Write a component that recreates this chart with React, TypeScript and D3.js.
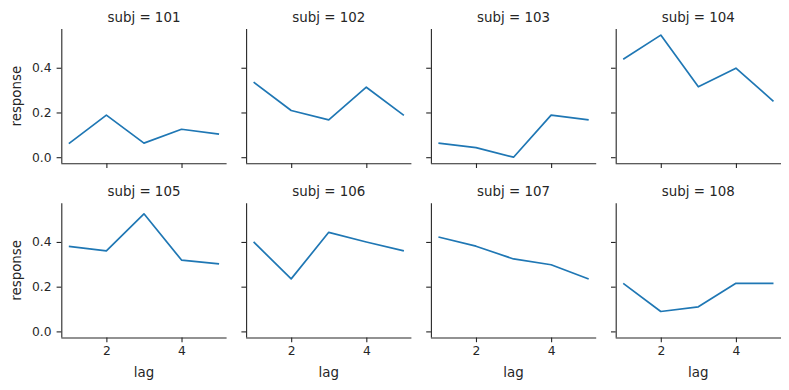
import React, { useRef, useEffect } from 'react'
import * as d3 from 'd3'

// facet data: one series per subject, lag 1..5
const subjects = [101, 102, 103, 104, 105, 106, 107, 108]
const lags = [1, 2, 3, 4, 5]
const responses = [
	[0.061, 0.188, 0.063, 0.125, 0.103],
	[0.336, 0.209, 0.167, 0.313, 0.187],
	[0.063, 0.043, 0.0, 0.188, 0.167],
	[0.438, 0.546, 0.315, 0.398, 0.25],
	[0.38, 0.36, 0.526, 0.319, 0.302],
	[0.4, 0.235, 0.443, 0.4, 0.36],
	[0.422, 0.381, 0.324, 0.298, 0.234],
	[0.215, 0.089, 0.11, 0.215, 0.215],
]
const xTicks = [2, 4]
const yTicks = [0, 0.2, 0.4]

const App = () => {
	const svgRef = useRef<SVGSVGElement>(null)

	useEffect(() => {
		document.body.style.margin = '0'
		const svg = d3.select(svgRef.current)
		svg.selectAll('*').remove()

		const width = 789
		const height = 390
		const ink = '#262626'
		const font = 'DejaVu Sans, sans-serif'
		svg.attr('width', width).attr('height', height)

		// panel geometry
		const cols = 4
		const left0 = 61.3
		const colStep = 184.8
		const pw = 165.3
		const top0 = 29
		const rowStep = 174.2
		const ph = 134.3

		// shared scales (sharex/sharey, 5% margins)
		const all = responses.flat()
		const yMin = d3.min(all)
		const yMax = d3.max(all)
		const yPad = (yMax - yMin) * 0.05
		const xScale = d3.scaleLinear().domain([0.8, 5.2]).range([0, pw])
		const yScale = d3
			.scaleLinear()
			.domain([yMin - yPad, yMax + yPad])
			.range([ph, 0])

		const line = d3
			.line<number>()
			.x((d, i) => xScale(lags[i]))
			.y(d => yScale(d))

		subjects.forEach((subj, k) => {
			const col = k % cols
			const row = Math.floor(k / cols)
			const g = svg
				.append('g')
				.attr('transform', `translate(${left0 + col * colStep}, ${top0 + row * rowStep})`)

			// y axis
			const yAxis = d3
				.axisLeft(yScale)
				.tickValues(yTicks)
				.tickSize(4.7)
				.tickPadding(5)
				.tickFormat(col === 0 ? d3.format('.1f') : () => '')
			const ya = g.append('g').call(yAxis)
			ya.select('.domain').attr('d', `M0.5,0V${ph}`)

			// x axis
			const xAxis = d3
				.axisBottom(xScale)
				.tickValues(xTicks)
				.tickSize(4.7)
				.tickPadding(4)
				.tickFormat(row === 1 ? d3.format('d') : () => '')
			const xa = g.append('g').attr('transform', `translate(0, ${ph})`).call(xAxis)
			xa.select('.domain').attr('d', `M0,0.5H${pw}`)

			for (const a of [ya, xa]) {
				a.select('.domain').attr('stroke', ink).attr('stroke-width', 1.1)
				a.selectAll('.tick line').attr('stroke', ink).attr('stroke-width', 1.1)
				a.selectAll('.tick text')
					.attr('fill', ink)
					.style('font-family', font)
					.style('font-size', '12.3px')
			}

			// series
			g.append('path')
				.datum(responses[k])
				.attr('fill', 'none')
				.attr('stroke', '#1f77b4')
				.attr('stroke-width', 1.7)
				.attr('stroke-linejoin', 'round')
				.attr('d', line)

			// facet title
			g.append('text')
				.attr('x', pw / 2)
				.attr('y', -7.3)
				.attr('text-anchor', 'middle')
				.attr('fill', ink)
				.style('font-family', font)
				.style('font-size', '13.4px')
				.text(`subj = ${subj}`)

			if (col === 0) {
				g.append('text')
					.attr('transform', `translate(${-40.5}, ${ph / 2}) rotate(-90)`)
					.attr('text-anchor', 'middle')
					.attr('fill', ink)
					.style('font-family', font)
					.style('font-size', '13.4px')
					.text('response')
			}
			if (row === 1) {
				g.append('text')
					.attr('x', pw / 2)
					.attr('y', ph + 39.5)
					.attr('text-anchor', 'middle')
					.attr('fill', ink)
					.style('font-family', font)
					.style('font-size', '13.4px')
					.text('lag')
			}
		})
	}, [])

	return <svg ref={svgRef}></svg>
}

export default App
